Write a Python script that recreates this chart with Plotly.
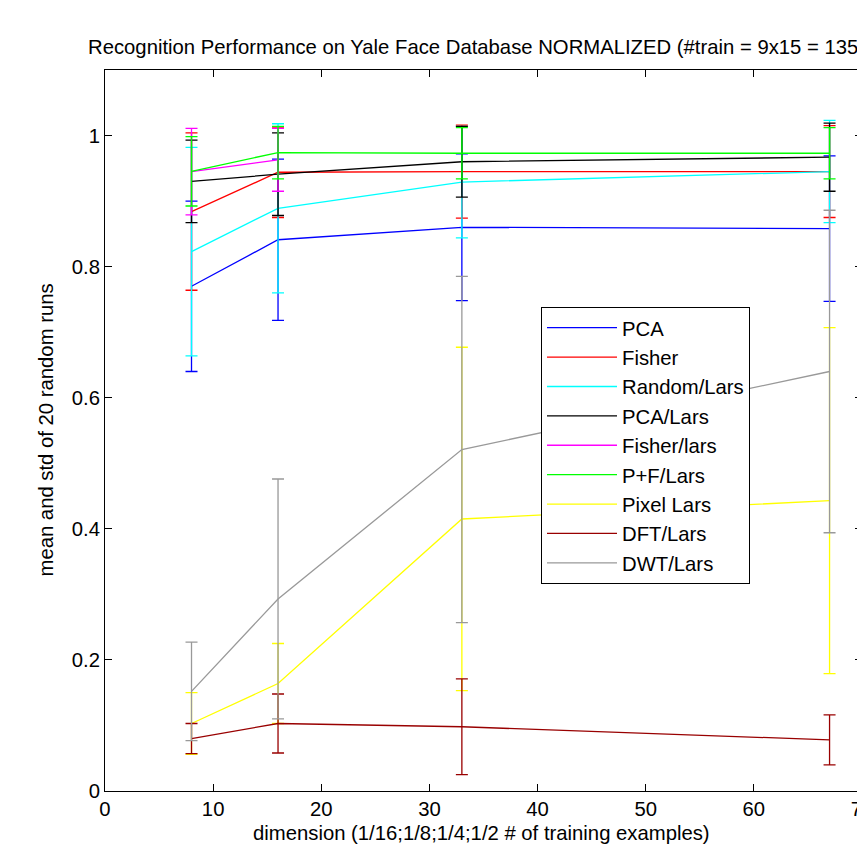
import plotly.graph_objects as go

dims = [8, 16, 33, 67]

names = ["PCA", "Fisher", "Random/Lars", "PCA/Lars", "Fisher/lars",
         "P+F/Lars", "Pixel Lars", "DFT/Lars", "DWT/Lars"]
colors = ["#0000FF", "#FF0000", "#00FFFF", "#000000", "#FF00FF",
          "#00FF00", "#FFFF00", "#990000", "#999999"]

pca_mean = [0.770, 0.841, 0.860, 0.858]
pca_std = [0.130, 0.123, 0.112, 0.111]
fisher_mean = [0.884, 0.944, 0.945, 0.945]
fisher_std = [0.120, 0.069, 0.071, 0.070]
random_mean = [0.823, 0.889, 0.929, 0.945]
random_std = [0.159, 0.129, 0.085, 0.078]
pcalars_mean = [0.930, 0.941, 0.960, 0.967]
pcalars_std = [0.063, 0.063, 0.054, 0.052]
fisherlars_dims = [8, 16]
fisherlars_mean = [0.945, 0.963]
fisherlars_std = [0.066, 0.048]
pf_mean = [0.9455, 0.974, 0.973, 0.973]
pf_std = [0.053, 0.040, 0.039, 0.039]
pixel_mean = [0.103, 0.164, 0.415, 0.443]
pixel_std = [0.047, 0.061, 0.262, 0.264]
dft_mean = [0.080, 0.103, 0.098, 0.078]
dft_std = [0.023, 0.045, 0.073, 0.038]
dwt_mean = [0.152, 0.293, 0.521, 0.640]
dwt_std = [0.075, 0.183, 0.264, 0.246]

series = [
    (dims, pca_mean, pca_std),
    (dims, fisher_mean, fisher_std),
    (dims, random_mean, random_std),
    (dims, pcalars_mean, pcalars_std),
    (fisherlars_dims, fisherlars_mean, fisherlars_std),
    (dims, pf_mean, pf_std),
    (dims, pixel_mean, pixel_std),
    (dims, dft_mean, dft_std),
    (dims, dwt_mean, dwt_std),
]

x_ticks = [0, 10, 20, 30, 40, 50, 60, 70]
y_ticks = [0, 0.2, 0.4, 0.6, 0.8, 1]
y_tick_labels = ["0", "0.2", "0.4", "0.6", "0.8", "1"]

FONT = "Liberation Sans, Arial, sans-serif"
FS = 20.3

fig = go.Figure()
for name, color, (xs, m, s) in zip(names, colors, series):
    fig.add_trace(go.Scatter(
        x=xs, y=m, name=name, mode="lines",
        line=dict(color=color, width=1.3),
        error_y=dict(type="data", array=s, symmetric=True,
                     color=color, thickness=1.3, width=6),
        hoverinfo="skip",
    ))

# page has an 8px body margin; work in reference pixel coords and shift
OFF = 8
W, H = 865 - OFF, 846 - OFF
plot_l, plot_r, plot_t, plot_b = 105, 862, 70, 791   # reference pixels
ml = plot_l - OFF
mt = plot_t - OFF
mr = (W + OFF) - plot_r
mb = (H + OFF) - plot_b
pw = plot_r - plot_l
ph = plot_b - plot_t


def px(xr):
    return (xr - plot_l) / pw


def py(yr):
    return (plot_b - yr) / ph


fig.update_layout(
    width=W, height=H,
    margin=dict(l=ml, r=mr, t=mt, b=mb, autoexpand=False),
    paper_bgcolor="white", plot_bgcolor="white",
    font=dict(family=FONT, size=FS, color="black"),
    title=dict(
        text="Recognition Performance on Yale Face Database NORMALIZED (#train = 9x15 = 135)",
        font=dict(family=FONT, size=FS, color="black"),
        xref="container", x=(88 - OFF) / W, xanchor="left",
        yref="container", y=1 - (47 - OFF) / H, yanchor="middle",
    ),
    showlegend=True,
    legend=dict(
        x=px(541), y=py(307),
        xanchor="left", yanchor="top",
        bgcolor="white", bordercolor="black", borderwidth=1,
        font=dict(family=FONT, size=FS, color="black"),
        tracegroupgap=0, itemwidth=70,
    ),
    xaxis=dict(
        range=[0, 70], tickvals=x_ticks,
        ticks="inside", ticklen=7, tickwidth=1, tickcolor="black",
        showline=True, linecolor="black", linewidth=1, mirror="allticks",
        showgrid=False, zeroline=False, ticklabeloverflow="allow",
        tickfont=dict(family=FONT, size=FS, color="black"),
    ),
    yaxis=dict(
        range=[0, 1.1], tickvals=y_ticks, ticktext=y_tick_labels,
        ticks="inside", ticklen=7, tickwidth=1, tickcolor="black",
        showline=True, linecolor="black", linewidth=1, mirror="allticks",
        showgrid=False, zeroline=False,
        tickfont=dict(family=FONT, size=FS, color="black"),
    ),
    annotations=[
        dict(text="dimension (1/16;1/8;1/4;1/2 # of training examples)",
             xref="paper", yref="paper", x=px(481), y=py(833),
             xanchor="center", yanchor="middle", showarrow=False,
             font=dict(family=FONT, size=FS, color="black")),
        dict(text="mean and std of 20 random runs",
             xref="paper", yref="paper", x=px(45), y=0.5,
             xanchor="center", yanchor="middle", textangle=-90, showarrow=False,
             font=dict(family=FONT, size=FS, color="black")),
    ],
)

fig.write_html("out.html")
